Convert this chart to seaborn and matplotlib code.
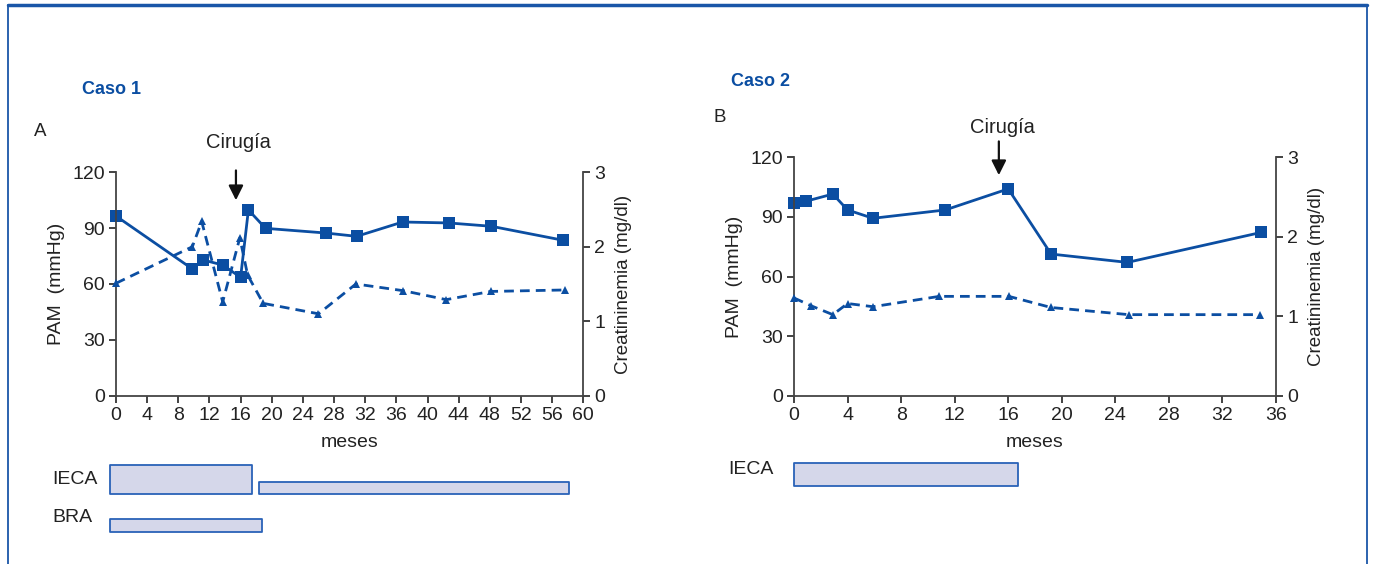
import matplotlib
matplotlib.use("Agg")
import matplotlib.pyplot as plt
from matplotlib.lines import Line2D
import seaborn as sns
import pandas as pd

# ---------------- data ----------------
c1_pam_x = [0, 9.8, 11.2, 13.7, 16.0, 17.0, 19.2, 26.9, 30.9, 36.8, 42.7, 48.2, 57.4]
c1_pam_y = [96.5, 68.1, 72.9, 70.2, 63.6, 99.8, 89.9, 87.4, 85.6, 93.3, 92.8, 91.0, 83.5]
c1_cr_x = [0, 9.8, 11.0, 13.7, 15.9, 16.9, 18.9, 26.0, 30.8, 36.9, 42.4, 48.1, 57.7]
c1_cr_y = [1.51, 2.00, 2.34, 1.26, 2.12, 1.62, 1.24, 1.10, 1.50, 1.41, 1.29, 1.40, 1.42]

c2_pam_x = [0, 0.9, 2.9, 4.0, 5.9, 11.3, 16.0, 19.2, 24.9, 34.9]
c2_pam_y = [96.8, 97.9, 101.5, 93.5, 89.3, 93.5, 104.1, 71.3, 67.1, 82.2]
c2_cr_x = [0, 1.3, 2.9, 4.0, 5.9, 10.85, 16.05, 19.2, 25.0, 34.8]
c2_cr_y = [1.23, 1.13, 1.02, 1.16, 1.12, 1.25, 1.25, 1.11, 1.02, 1.02]

c1_surgery = 15.4
c2_surgery = 15.3

c1_xticks = list(range(0, 61, 4))
c2_xticks = list(range(0, 37, 4))
pam_ticks = [0, 30, 60, 90, 120]
cr_ticks = [0, 1, 2, 3]

# treatment bars: (label, start, end)
c1_treat = [("IECA", -0.8, 17.5), ("IECA", 18.3, 58.1), ("BRA", -0.8, 18.8)]
c2_treat = [("IECA", 0.0, 16.75)]

# ---------------- style ----------------
sns.set_style("ticks")
plt.rcParams["font.family"] = ["Liberation Sans", "DejaVu Sans"]
plt.rcParams["font.size"] = 13

BLUE = "#0b4ea2"
BARFILL = "#d5d7ea"
BAREDGE = "#2a62b8"
SPINE = "#444444"
TXT = "#222222"

W, H = 1375, 564
fig = plt.figure(figsize=(W / 100, H / 100), dpi=100)


def fx(px):
    return px / W


def fy(py):
    return 1 - py / H


def make_chart(left_px, right_px, top_px, bottom_px, xmax, xticks,
               pam_x, pam_y, cr_x, cr_y, surgery, arrow_top, arrow_tip, text_y):
    ax = fig.add_axes([fx(left_px), fy(bottom_px), fx(right_px - left_px),
                       (bottom_px - top_px) / H])
    ax2 = ax.twinx()
    d1 = pd.DataFrame({"mes": pam_x, "PAM": pam_y})
    d2 = pd.DataFrame({"mes": cr_x, "Cr": cr_y})
    sns.lineplot(data=d1, x="mes", y="PAM", ax=ax, color=BLUE, lw=2,
                 marker="s", markersize=8, markeredgewidth=0, clip_on=False)
    sns.lineplot(data=d2, x="mes", y="Cr", ax=ax2, color=BLUE, lw=2,
                 linestyle=(0, (3.5, 2.2)), marker="^", markersize=5.5,
                 markeredgewidth=0, clip_on=False)
    ax.set_xlim(0, xmax)
    ax.set_ylim(0, 120)
    ax2.set_ylim(0, 3)
    ax.set_xticks(xticks)
    ax.set_yticks(pam_ticks)
    ax2.set_yticks(cr_ticks)
    ax.set_xlabel("meses", fontsize=14, labelpad=7, color=TXT)
    ax.set_ylabel("PAM  (mmHg)", fontsize=14, labelpad=5, color=TXT)
    ax2.set_ylabel("Creatininemia (mg/dl)", fontsize=13.5, labelpad=7, color=TXT)
    for a in (ax, ax2):
        a.spines["top"].set_visible(False)
        for s in ("left", "right", "bottom"):
            a.spines[s].set_color(SPINE)
            a.spines[s].set_linewidth(1.3)
        a.tick_params(colors=TXT, labelsize=14, length=5, width=1.2, pad=3)
    ax.spines["right"].set_visible(False)
    ax2.spines["left"].set_visible(False)
    ax2.spines["bottom"].set_visible(False)
    ax.annotate("", xy=(surgery, arrow_tip), xytext=(surgery, arrow_top),
                arrowprops=dict(arrowstyle="-|>", color="#111111", lw=1.6,
                                mutation_scale=22, shrinkA=0, shrinkB=0),
                annotation_clip=False)
    ax.text(surgery + 0.3, text_y, "Cirugía", ha="center", va="center",
            fontsize=14.5, color=TXT, clip_on=False)
    return ax


ax_l = make_chart(116, 583.3, 172.3, 395.7, 60, c1_xticks,
                  c1_pam_x, c1_pam_y, c1_cr_x, c1_cr_y,
                  c1_surgery, 121, 105, 136)
ax_r = make_chart(794, 1276, 157.3, 395.7, 36, c2_xticks,
                  c2_pam_x, c2_pam_y, c2_cr_x, c2_cr_y,
                  c2_surgery, 128, 111, 135)


def make_bars(left_px, right_px, xmax, treat, rows):
    bx = fig.add_axes([fx(left_px), fy(540), fx(right_px - left_px), 80 / H])
    bx.set_xlim(0, xmax)
    bx.set_ylim(80, 0)
    bx.axis("off")
    for (lab, s, e), (y0, h) in zip(treat, rows):
        bx.broken_barh([(s, e - s)], (y0, h), facecolors=BARFILL,
                       edgecolors=BAREDGE, linewidth=1.3, clip_on=False)
    return bx


make_bars(116, 583.3, 60, c1_treat, [(5, 29), (22, 12), (59, 13)])
make_bars(794, 1276, 36, c2_treat, [(3, 23)])

fig.text(fx(52), fy(479), "IECA", fontsize=14, va="center", ha="left", color=TXT)
fig.text(fx(52), fy(517), "BRA", fontsize=14, va="center", ha="left", color=TXT)
fig.text(fx(728), fy(470), "IECA", fontsize=14, va="center", ha="left", color=TXT)

fig.text(fx(82), fy(90), "Caso 1", fontsize=13, fontweight="bold",
         color=BLUE, va="center", ha="left")
fig.text(fx(731), fy(81), "Caso 2", fontsize=13, fontweight="bold",
         color=BLUE, va="center", ha="left")
fig.text(fx(34), fy(131), "A", fontsize=13.5, va="center", ha="left", color=TXT)
fig.text(fx(714), fy(118), "B", fontsize=13.5, va="center", ha="left", color=TXT)

# frame
FRAME = "#1a56a8"
fig.add_artist(Line2D([fx(8), fx(1367)], [fy(5), fy(5)], color=FRAME, lw=2.5,
                      transform=fig.transFigure))
fig.add_artist(Line2D([fx(8), fx(8)], [fy(5), 0], color=FRAME, lw=1.3,
                      transform=fig.transFigure))
fig.add_artist(Line2D([fx(1367), fx(1367)], [fy(5), 0], color=FRAME, lw=1.3,
                      transform=fig.transFigure))

fig.savefig("out.png", dpi=100)
